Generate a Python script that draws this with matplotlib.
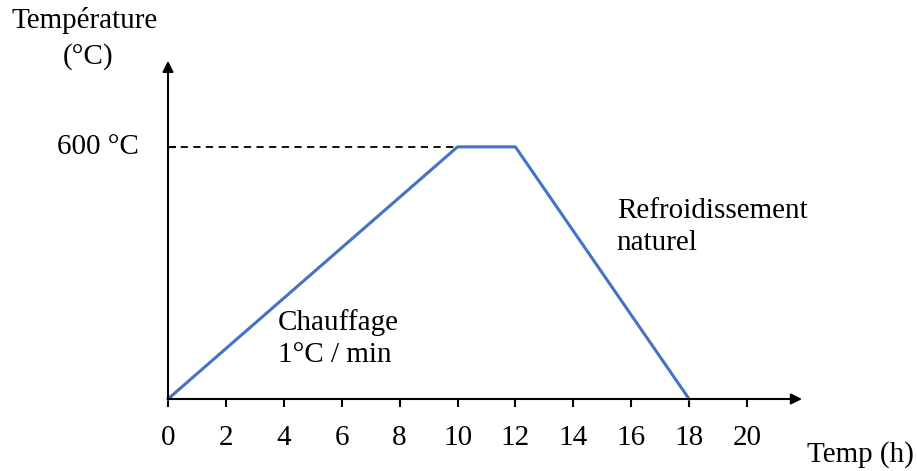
import matplotlib.pyplot as plt

# courbe de cuisson
temps = [0, 10, 12, 18]
temperature = [0, 600, 600, 0]
ticks_x = [0, 2, 4, 6, 8, 10, 12, 14, 16, 18, 20]

plt.rcParams['font.family'] = ['Liberation Serif', 'DejaVu Serif']
fs = 21

fig = plt.figure(figsize=(9.17, 4.71), dpi=100)
ax = fig.add_axes([168/917, 72/471, 632/917, 337/471])
ax.set_xlim(0, 21.83)
ax.set_ylim(0, 802)

ax.plot(temps, temperature, color='#4472C4', linewidth=2.2, clip_on=False, zorder=3)
ax.plot([0, 10], [600, 600], color='black', linestyle=(0, (4, 3)), linewidth=1.3)

for s in ax.spines.values():
    s.set_visible(False)

# axes avec fleches
ax.annotate('', xy=(21.9, 0), xytext=(0, 0),
            arrowprops=dict(arrowstyle='-|>', color='black', lw=1.5, mutation_scale=16,
                            shrinkA=0, shrinkB=0), annotation_clip=False)
ax.annotate('', xy=(0, 805), xytext=(0, 0),
            arrowprops=dict(arrowstyle='-|>', color='black', lw=1.5, mutation_scale=16,
                            shrinkA=0, shrinkB=0), annotation_clip=False)

ax.set_xticks(ticks_x)
ax.set_xticklabels([str(t) for t in ticks_x], fontsize=fs)
ax.tick_params(axis='x', direction='out', length=6, width=1.5, pad=13)
ax.set_yticks([600])
ax.set_yticklabels([''])
ax.tick_params(axis='y', direction='in', length=6, width=1.5)

ax.text(-1.0, 600, '600 °C', fontsize=fs, ha='right', va='center')
fig.text(85/917, 1 - 20/471, 'Température', fontsize=fs, ha='center', va='center')
fig.text(88/917, 1 - 57/471, '(°C)', fontsize=fs, ha='center', va='center')
fig.text(860/917, 1 - 455/471, 'Temp (h)', fontsize=fs, ha='center', va='center')

ax.text(3.8, 143, 'Chauffage\n1°C / min', fontsize=fs, ha='left', va='center', linespacing=1.3)
ax.text(15.5, 410, 'Refroidissement\nnaturel', fontsize=fs, ha='left', va='center', linespacing=1.3)

fig.savefig('out.png', dpi=100)
